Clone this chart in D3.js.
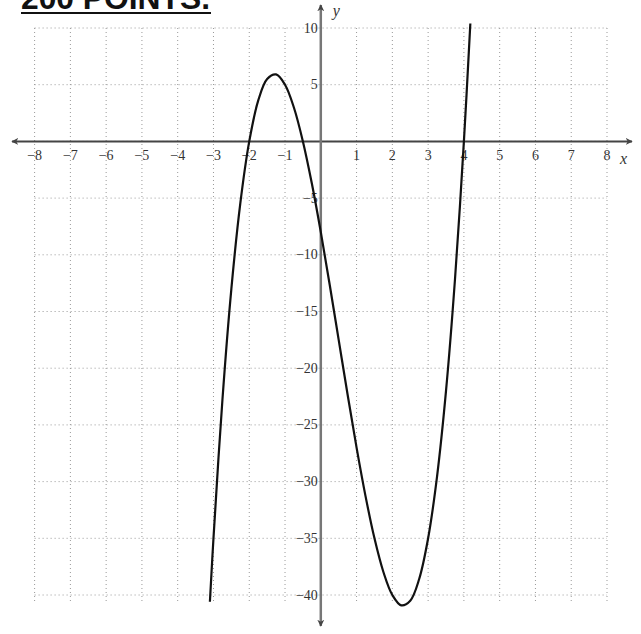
<!DOCTYPE html>
<html><head><meta charset="utf-8">
<script src="https://cdn.jsdelivr.net/npm/d3@7"></script>
<style>html,body{margin:0;padding:0;background:#fff;}svg{display:block;}</style>
</head><body>
<script>
const xTicks = [-8,-7,-6,-5,-4,-3,-2,-1,1,2,3,4,5,6,7,8];
const yTicks = [10,5,-5,-10,-15,-20,-25,-30,-35,-40];
const xGrid = [-8,-7,-6,-5,-4,-3,-2,-1,0,1,2,3,4,5,6,7,8];
const yGrid = [10,5,0,-5,-10,-15,-20,-25,-30,-35,-40];
const curveX = [-3.1,-3.0,-2.75,-2.5,-2.25,-2.0,-1.75,-1.5,-1.25,-1.0,-0.75,-0.5,-0.25,0,0.25,0.5,0.75,1,1.25,1.5,1.75,2,2.25,2.5,2.75,3,3.25,3.5,3.75,4,4.18];
const curveY = [-40.6,-35.0,-22.8,-13.0,-5.47,0,3.59,5.5,5.91,5,2.97,0,-3.72,-8,-12.66,-17.5,-22.34,-27,-31.28,-35,-37.97,-40,-40.91,-40.5,-38.59,-35,-29.53,-22,-12.2,0,10.4];
const title = "200 POINTS.";

const W = 641, H = 634;
const svg = d3.select("body").append("svg").attr("width", W).attr("height", H);
const x = d3.scaleLinear().domain([-8, 8]).range([34.6, 607]);
const y = d3.scaleLinear().domain([-40, 10]).range([595, 28]);

const defs = svg.append("defs");
defs.append("marker").attr("id","arr").attr("viewBox","0 0 10 10").attr("refX",9).attr("refY",5)
  .attr("markerWidth",7).attr("markerHeight",7).attr("markerUnits","userSpaceOnUse")
  .attr("orient","auto-start-reverse")
  .append("path").attr("d","M0,0 L10,5 L0,10 L3,5 Z").attr("fill","#444");

// grid
const g = svg.append("g");
g.selectAll("line.vg").data(xGrid).join("line").attr("class","vg")
  .attr("x1", d=>x(d)).attr("x2", d=>x(d)).attr("y1", y(10)).attr("y2", y(-40)+6)
  .attr("stroke","#999").attr("stroke-width",1).attr("stroke-dasharray","1,3");
g.selectAll("line.hg").data(yGrid).join("line").attr("class","hg")
  .attr("y1", d=>y(d)).attr("y2", d=>y(d)).attr("x1", x(-8)).attr("x2", x(8))
  .attr("stroke","#999").attr("stroke-width",1).attr("stroke-dasharray","1,3");

// axes
svg.append("line").attr("x1", 12).attr("x2", 632).attr("y1", y(0)).attr("y2", y(0))
  .attr("stroke","#444").attr("stroke-width",2)
  .attr("marker-start","url(#arr)").attr("marker-end","url(#arr)");
svg.append("line").attr("x1", x(0)).attr("x2", x(0)).attr("y1", 5).attr("y2", 626)
  .attr("stroke","#777").attr("stroke-width",2.5)
  .attr("marker-start","url(#arr)").attr("marker-end","url(#arr)");

// tick labels
const fmt = d => d < 0 ? "\u2212" + Math.abs(d) : String(d);
svg.selectAll("text.xt").data(xTicks).join("text").attr("class","xt")
  .attr("x", d=>x(d)).attr("y", y(0)+19).attr("text-anchor","middle")
  .attr("font-family","Liberation Serif, serif").attr("font-size",14).attr("fill","#333")
  .text(fmt);
svg.selectAll("text.yt").data(yTicks).join("text").attr("class","yt")
  .attr("x", x(0)-3).attr("y", d=>y(d)+4.5).attr("text-anchor","end")
  .attr("font-family","Liberation Serif, serif").attr("font-size",14).attr("fill","#333")
  .text(fmt);

svg.append("text").attr("x", x(0)+12).attr("y", 16).attr("font-family","Liberation Serif, serif")
  .attr("font-style","italic").attr("font-size",16).attr("fill","#333").text("y");
svg.append("text").attr("x", 620).attr("y", 164).attr("font-family","Liberation Serif, serif")
  .attr("font-style","italic").attr("font-size",16).attr("fill","#333").text("x");

// curve
const pts = curveX.map((d,i)=>[d, curveY[i]]);
svg.append("path").datum(pts)
  .attr("d", d3.line().x(d=>x(d[0])).y(d=>y(d[1])).curve(d3.curveCatmullRom.alpha(0.5)))
  .attr("fill","none").attr("stroke","#111").attr("stroke-width",2.2);

// title
svg.append("text").attr("x", 21).attr("y", 9).attr("font-family","Liberation Sans, Arial, sans-serif")
  .attr("font-weight","bold").attr("font-size",31).attr("fill","#111")
  .attr("textLength",189).attr("lengthAdjust","spacingAndGlyphs").text(title);
svg.append("line").attr("x1",21).attr("x2",211).attr("y1",13).attr("y2",13)
  .attr("stroke","#111").attr("stroke-width",2);
</script>
</body></html>
